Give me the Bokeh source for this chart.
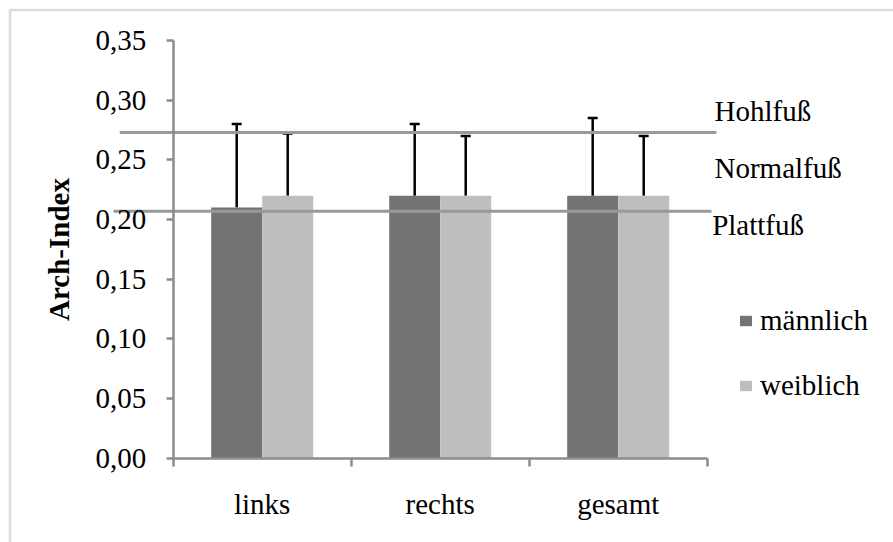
from bokeh.plotting import figure
from bokeh.models import (ColumnDataSource, Range1d, FixedTicker, CustomJSTickFormatter,
                          Whisker, TeeHead, BoxAnnotation, Label, Legend, LegendItem)
from bokeh.transform import dodge
from bokeh.embed import file_html
from bokeh.resources import INLINE

# ---- data ----
categories = ["links", "rechts", "gesamt"]
maennlich = [0.21, 0.22, 0.22]
weiblich = [0.22, 0.22, 0.22]
maennlich_sd = [0.07, 0.06, 0.065]
weiblich_sd = [0.052, 0.05, 0.05]
y_ticks = [0.00, 0.05, 0.10, 0.15, 0.20, 0.25, 0.30, 0.35]
thresholds = [0.273, 0.207]          # Hohlfuß / Plattfuß boundaries
zone_labels = ["Hohlfuß", "Normalfuß", "Plattfuß"]
series_names = ["männlich", "weiblich"]

FONT = "Liberation Serif"
FS = "29px"
DARK = "#737373"
LIGHT = "#bebebe"
AXIS_GRAY = "#8c8c8c"
LINE_GRAY = "#999999"

W, H = 893, 542
X0_PX, PX_PER_CAT = 172.7, 178.0      # screen layout of the category axis
Y0_PX, PX_PER_UNIT = 457.7, 1193.4    # screen layout of the value axis

x = [i + 0.5 for i in range(len(categories))]
src = ColumnDataSource(dict(
    x=x, m=maennlich, w=weiblich,
    m_up=[v + e for v, e in zip(maennlich, maennlich_sd)],
    w_up=[v + e for v, e in zip(weiblich, weiblich_sd)],
))

x_range = Range1d(-X0_PX / PX_PER_CAT, (W - X0_PX) / PX_PER_CAT)
y_range = Range1d(-(H - Y0_PX) / PX_PER_UNIT, Y0_PX / PX_PER_UNIT)

p = figure(width=W, height=H, min_border=0,
           min_border_left=0, min_border_right=0, min_border_top=0, min_border_bottom=0,
           x_range=x_range, y_range=y_range,
           output_backend="svg", toolbar_location=None)
p.outline_line_color = None
p.xgrid.visible = False
p.ygrid.visible = False
p.background_fill_color = "white"
p.border_fill_color = "white"

BW = 0.2865
OFF = 0.1433
r_m = p.vbar(x=dodge("x", -OFF), top="m", width=BW, source=src,
             fill_color=DARK, line_color=None)
r_w = p.vbar(x=dodge("x", OFF), top="w", width=BW, source=src,
             fill_color=LIGHT, line_color=None)

# threshold lines (extend a little beyond the category axis on both sides)
thr_src = ColumnDataSource(dict(y=thresholds, x0=[-0.30, -0.335], x1=[3.052, 3.024]))
p.segment(x0="x0", y0="y", x1="x1", y1="y", source=thr_src,
          line_color=LINE_GRAY, line_width=3)

for off, low, up in [(-OFF, "m", "m_up"), (OFF, "w", "w_up")]:
    wk = Whisker(base=dodge("x", off), lower=low, upper=up, source=src,
                 line_color="black", line_width=2.5,
                 lower_head=None,
                 upper_head=TeeHead(size=10, line_color="black", line_width=2.5))
    p.add_layout(wk)

# zone labels
for txt, xx, yy in [(zone_labels[0], 3.041, 0.2908), (zone_labels[1], 3.041, 0.2428),
                    (zone_labels[2], 3.028, 0.1950)]:
    p.add_layout(Label(x=xx, y=yy, text=txt, text_font=FONT, text_font_size=FS,
                       text_baseline="middle", text_align="left", text_color="black"))

# outer border (left and top)
p.add_layout(BoxAnnotation(left=9.5, top=9.5, right=3000, bottom=3000,
                           left_units="canvas", right_units="canvas",
                           top_units="canvas", bottom_units="canvas",
                           fill_alpha=0, line_color=AXIS_GRAY, line_width=2.5))

# y axis
ya = p.yaxis[0]
ya.fixed_location = 0
ya.bounds = (0, 0.35)
ya.ticker = FixedTicker(ticks=y_ticks)
ya.formatter = CustomJSTickFormatter(code="return tick.toFixed(2).replace('.', ',');")
ya.axis_line_color = AXIS_GRAY
ya.axis_line_width = 2.5
ya.major_tick_line_color = AXIS_GRAY
ya.major_tick_line_width = 2.5
ya.major_tick_in = 0
ya.major_tick_out = 7
ya.minor_tick_line_color = None
ya.major_label_text_font = FONT
ya.major_label_text_font_size = FS
ya.major_label_text_color = "black"
ya.major_label_standoff = 20
ya.axis_label = "Arch-Index"
ya.axis_label_text_font = FONT
ya.axis_label_text_font_size = FS
ya.axis_label_text_font_style = "bold"
ya.axis_label_text_color = "black"
ya.axis_label_standoff = 18

# x axis
xa = p.xaxis[0]
xa.fixed_location = 0
xa.bounds = (0, len(categories))
xa.ticker = FixedTicker(ticks=x, minor_ticks=list(range(len(categories) + 1)))
xa.formatter = CustomJSTickFormatter(args=dict(cats=categories),
                                     code="return cats[Math.floor(tick)];")
xa.axis_line_color = AXIS_GRAY
xa.axis_line_width = 2.5
xa.major_tick_line_color = None
xa.major_tick_in = 0
xa.major_tick_out = 0
xa.minor_tick_line_color = AXIS_GRAY
xa.minor_tick_line_width = 2.5
xa.minor_tick_in = 0
xa.minor_tick_out = 8
xa.major_label_text_font = FONT
xa.major_label_text_font_size = FS
xa.major_label_text_color = "black"
xa.major_label_standoff = 22

legend = Legend(items=[LegendItem(label=series_names[0], renderers=[r_m]),
                       LegendItem(label=series_names[1], renderers=[r_w])],
                location=(738, 140), padding=0, margin=0, spacing=32,
                glyph_width=15, glyph_height=13, label_standoff=7,
                label_text_font=FONT, label_text_font_size=FS,
                label_text_color="black",
                border_line_color=None, background_fill_alpha=0)
p.add_layout(legend)

open("out.html", "w").write(file_html(p, INLINE))
